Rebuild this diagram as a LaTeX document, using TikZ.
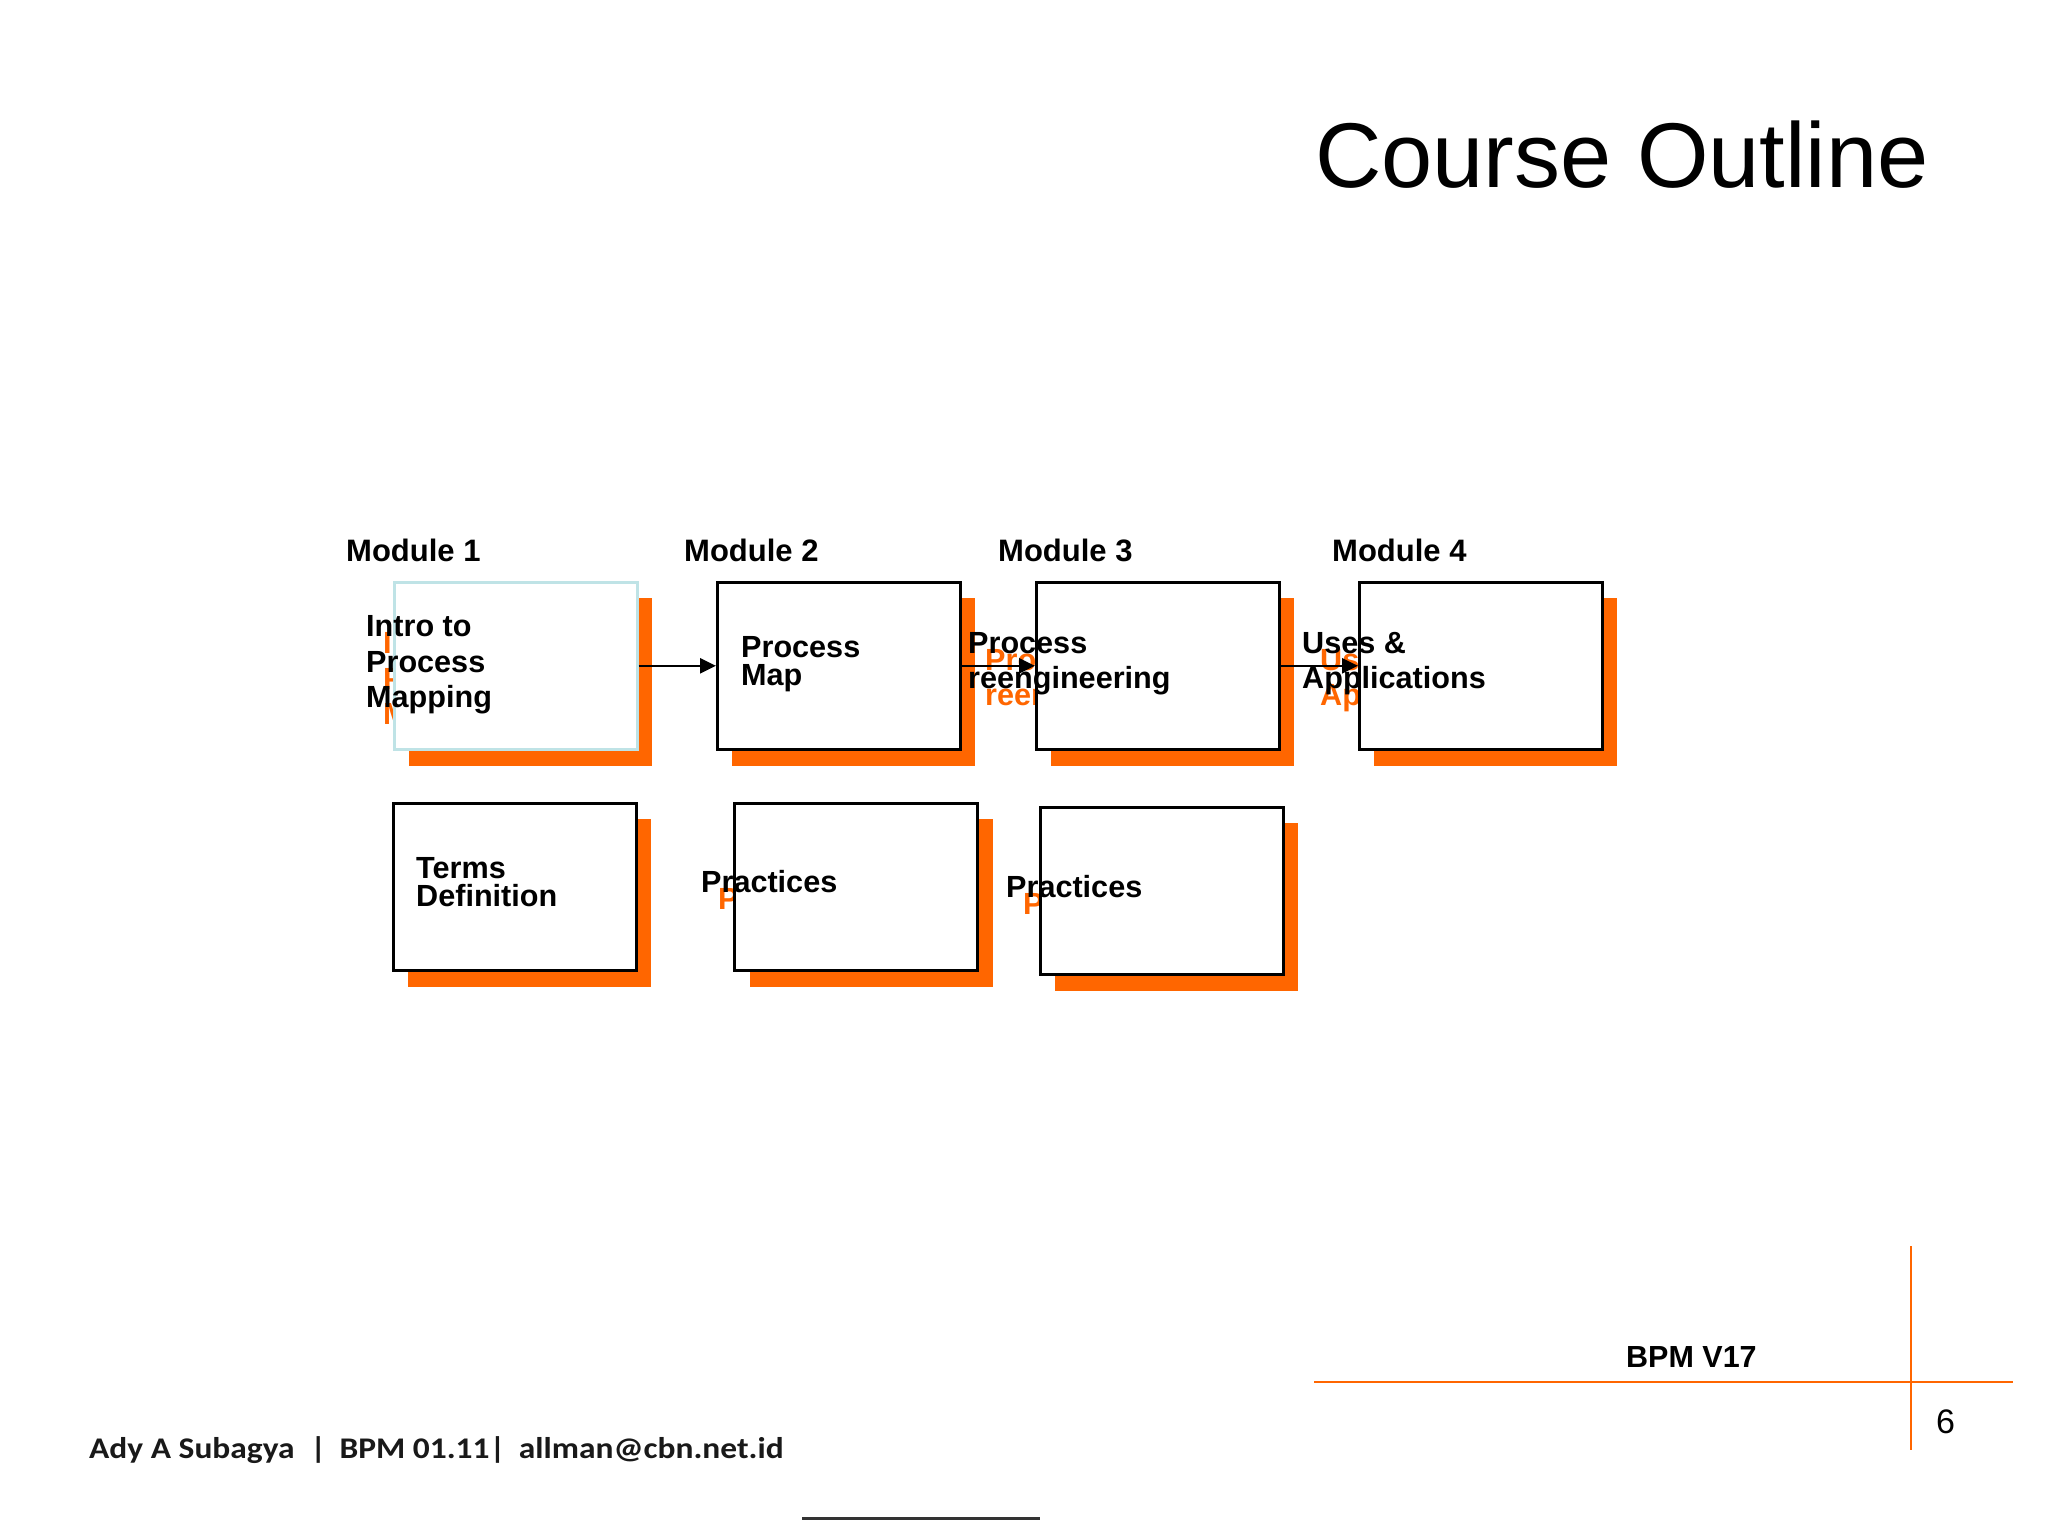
\documentclass[tikz,border=0pt]{standalone}
\usepackage{fontspec}
\usepackage{graphicx}
\setmainfont{Liberation Sans}
\newfontfamily\carlito{Carlito}
\usetikzlibrary{arrows.meta}
\definecolor{orng}{HTML}{FF6600}
\definecolor{paleblue}{HTML}{BFE3E6}
\definecolor{footgray}{HTML}{333333}
\begin{document}
\begin{tikzpicture}[x=1pt,y=-1pt,
  box/.style={draw=black, line width=2.6pt, fill=white, minimum width=243pt, minimum height=167pt, inner sep=0pt, anchor=north west},
  shadowbox/.style={fill=orng, minimum width=243pt, minimum height=168pt, inner sep=0pt, anchor=north west},
  txt/.style={font=\fontsize{30.6}{36}\selectfont\bfseries, inner sep=0pt, anchor=base west},
  otxt/.style={txt, text=orng},
  modlbl/.style={font=\fontsize{31}{37}\selectfont\bfseries, inner sep=0pt, anchor=base west},
  conn/.style={line width=2.6pt, -{Triangle[length=16pt,width=15pt]}},
  rule/.style={draw=orng, line width=2pt}]
\useasboundingbox (0,0) rectangle (2048,1536);
\fill[white] (0,0) rectangle (2048,1536);

% title
\node[font=\fontsize{92}{110}\selectfont, inner sep=0pt, anchor=base west] (title) at (1315,187) {Course Outline};

% module labels
\node[modlbl] (m1) at (346,561) {Module 1};
\node[modlbl] (m2) at (684,561) {Module 2};
\node[modlbl] (m3) at (998,561) {Module 3};
\node[modlbl] (m4) at (1332,561) {Module 4};

% shadows
\node[shadowbox] (s1) at (409,598) {};
\node[shadowbox] (s2) at (732,598) {};
\node[shadowbox] (s3) at (1051,598) {};
\node[shadowbox] (s4) at (1374,598) {};
\node[shadowbox] (s5) at (408,819) {};
\node[shadowbox] (s6) at (750,819) {};
\node[shadowbox] (s7) at (1055,823) {};

% orange shadow texts
\node[otxt] (o1a) at (383,653) {Intro to};
\node[otxt] (o1b) at (383,689) {Process};
\node[otxt] (o1c) at (383,724) {Mapping};
\node[otxt] (o3a) at (985,670) {Process};
\node[otxt] (o3b) at (985,705) {reengineering};
\node[otxt] (o4a) at (1320,670) {Uses \&};
\node[otxt] (o4b) at (1320,705) {Applications};
\node[otxt] (o6) at (718,909) {Practices};
\node[otxt] (o7) at (1023,914) {Practices};

% boxes
\node[box, draw=paleblue] (b1) at (393,581) {};
\node[box] (b2) at (716,581) {};
\node[box] (b3) at (1035,581) {};
\node[box] (b4) at (1358,581) {};
\node[box] (b5) at (392,802) {};
\node[box] (b6) at (733,802) {};
\node[box] (b7) at (1039,806) {};

% connectors
\draw[conn] (b1.east) -- (b2.west);
\draw[conn] (b2.east) -- (b3.west);
\draw[conn] (b3.east) -- (b4.west);

% black texts
\node[txt] (t1a) at (366,636) {Intro to};
\node[txt] (t1b) at (366,672) {Process};
\node[txt] (t1c) at (366,707) {Mapping};
\node[txt] (t2a) at (741,657) {Process};
\node[txt] (t2b) at (741,685) {Map};
\node[txt] (t3a) at (968,653) {Process};
\node[txt] (t3b) at (968,688) {reengineering};
\node[txt] (t4a) at (1302,653) {Uses \&};
\node[txt] (t4b) at (1302,688) {Applications};
\node[txt] (t5a) at (416,878) {Terms};
\node[txt] (t5b) at (416,906) {Definition};
\node[txt] (t6) at (701,892) {Practices};
\node[txt] (t7) at (1006,897) {Practices};

% footer
\draw[rule] (1314,1382) -- (2013,1382);
\draw[rule] (1911,1246) -- (1911,1450);
\node[font=\fontsize{30.5}{36}\selectfont\bfseries, inner sep=0pt, anchor=base west] (ver) at (1626,1367) {BPM V17};
\node[font=\fontsize{34}{40}\selectfont, inner sep=0pt, anchor=base west] (pg) at (1936,1433) {6};
\node[font=\fontsize{30}{36}\selectfont\carlito\bfseries, inner sep=0pt, anchor=base west, text=black!90] (author) at (89,1458) {\scalebox{1.115}[1]{Ady A Subagya\hspace{14pt}|\hspace{12pt}BPM 01.11|\hspace{12pt}allman@cbn.net.id}};
\draw[footgray, line width=3pt] (802,1518) -- (1040,1518);
\end{tikzpicture}
\end{document}
